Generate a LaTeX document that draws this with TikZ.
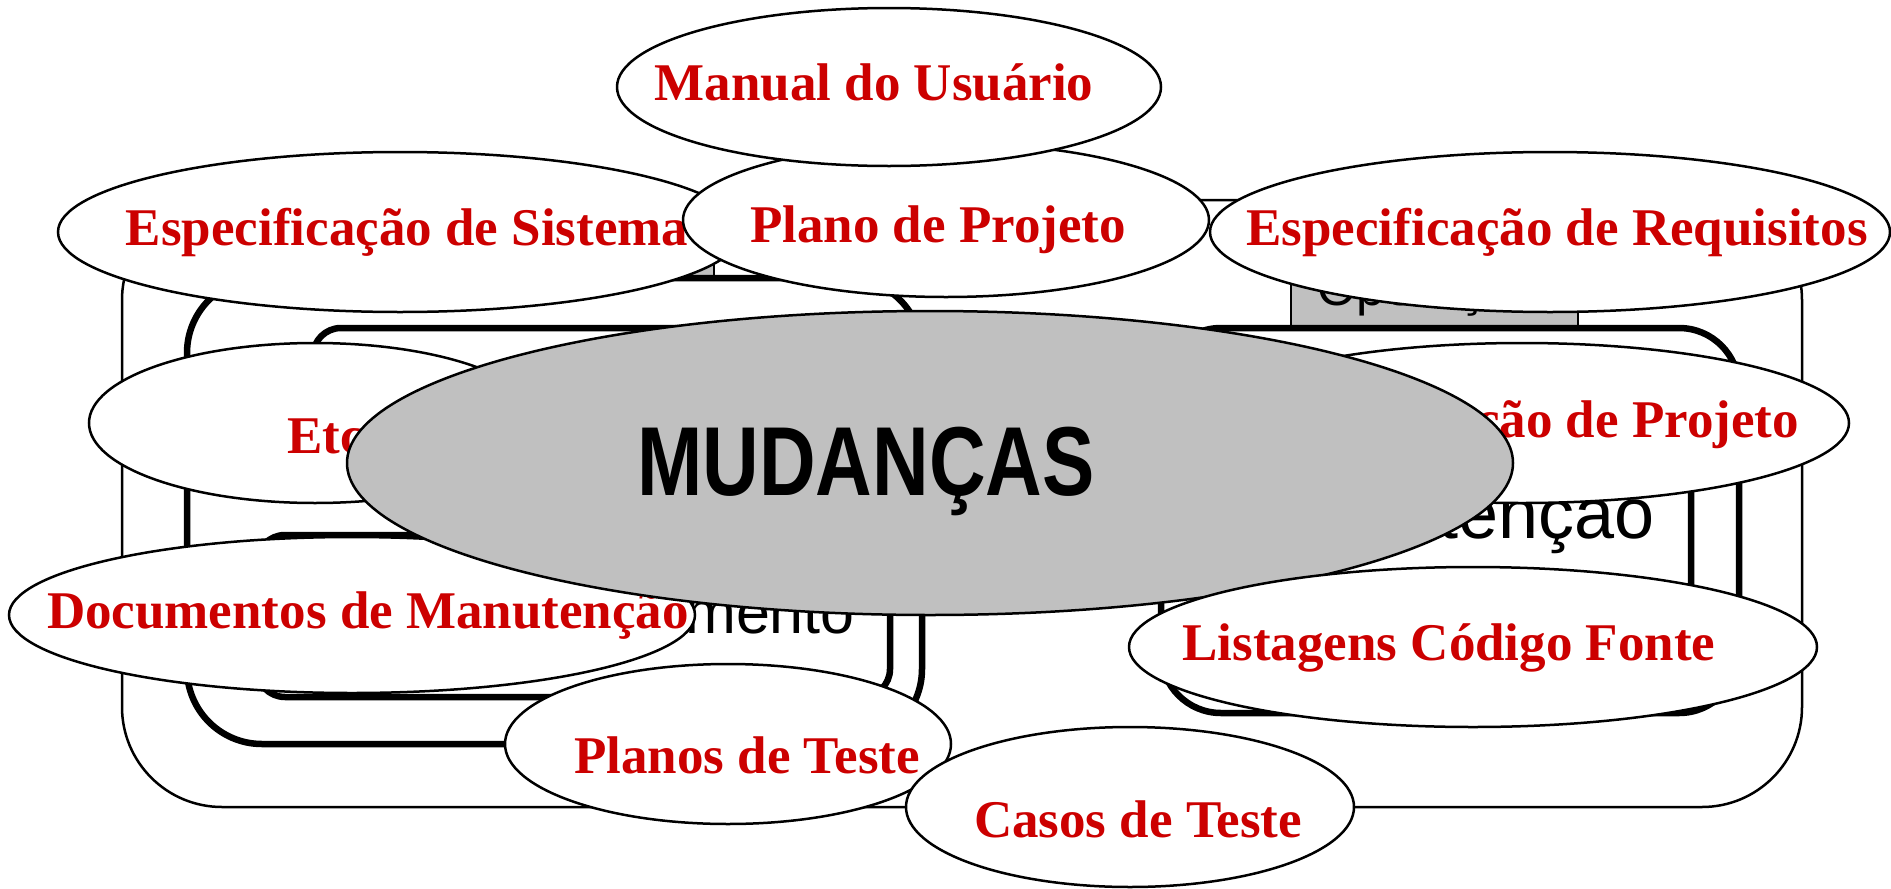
\documentclass[tikz,border=0pt]{standalone}
\usepackage{fontspec}
\setmainfont{Liberation Serif}
\newfontfamily\arialfont{Liberation Sans}
\newfontfamily\narrowsans[FakeStretch=0.8]{Liberation Sans}
\usetikzlibrary{shapes.geometric, positioning}
\definecolor{docred}{RGB}{204,0,0}
\definecolor{tabgray}{RGB}{192,192,192}

\begin{document}
\begin{tikzpicture}[x=1pt, y=-1pt,
        systembox/.style = {draw, line width=2.5pt, rounded corners=100pt},
        phasebox/.style = {draw, line width=6.5pt, rounded corners=75pt},
        stagebox/.style = {draw, line width=6.5pt, rounded corners=28pt},
        tabbox/.style = {draw, fill=tabgray, line width=2.5pt},
        doc/.style = {draw, ellipse, fill=white, line width=2.5pt, inner sep=0pt},
        doctext/.style = {anchor=base, inner sep=0pt, text=docred, font=\bfseries\fontsize{53}{60}\selectfont},
        phasetext/.style = {anchor=base east, inner sep=0pt, font=\arialfont\fontsize{70}{80}\selectfont},
        ]
        \useasboundingbox (0,0) rectangle (1891,889);

        % background: system, phases and their tabs
        \draw [systembox] (122,200) rectangle (1802,807);
        \draw [tabbox] (440,235) rectangle (714,278);
        \draw [tabbox] (1291,250) rectangle (1578,328);
        \draw [phasebox] (187,278) rectangle (922,744);
        \draw [stagebox] (313,328) rectangle (890,495);
        \draw [stagebox] (257,535) rectangle (890,697);
        \draw [phasebox, rounded corners=60pt] (1161,328) rectangle (1739,713);
        \draw [stagebox] (1195,370) rectangle (1691,690);
        \node [phasetext, font=\arialfont\fontsize{61}{70}\selectfont] (dev) at (855,633) {Desenvolvimento};
        \node [phasetext, font=\arialfont\fontsize{72}{80}\selectfont] (maint) at (1655,538) {Manutenção};
        \node [phasetext, anchor=base, font=\arialfont\fontsize{51}{60}\selectfont] (oper) at (1429,305) {Operação};

        % documents
        \node [doc, minimum width=684, minimum height=160] (sysspec) at (400,232) {};
        \node [doctext] (sysspec-t) at (407,245) {Especificação de Sistema};
        \node [doc, minimum width=680, minimum height=160] (reqspec) at (1550,232) {};
        \node [doctext] (reqspec-t) at (1557,245) {Especificação de Requisitos};
        \node [doc, minimum width=526, minimum height=154] (plan) at (946,220) {};
        \node [doctext] (plan-t) at (938,242) {Plano de Projeto};
        \node [doc, minimum width=544, minimum height=158] (manual) at (889,87) {};
        \node [doctext] (manual-t) at (874,100) {Manual do Usuário};
        \node [doc, minimum width=452, minimum height=160] (etc) at (315,423) {};
        \node [doctext, anchor=base west] (etc-t) at (287,453) {Etc.};
        \node [doc, minimum width=654, minimum height=160] (design) at (1522,423) {};
        \node [doctext, anchor=base east] (design-t) at (1799,437) {Especificação de Projeto};
        \node [doc, minimum width=686, minimum height=156] (maintdocs) at (352,615) {};
        \node [doctext] (maintdocs-t) at (368,628) {Documentos de Manutenção};

        \node [doc, fill=tabgray, minimum width=1166, minimum height=304] (changes) at (930,463) {};
        \node [anchor=base, inner sep=0pt, font=\narrowsans\bfseries\fontsize{98}{110}\selectfont] (changes-t) at (866,495) {MUDANÇAS};

        \node [doc, minimum width=688, minimum height=160] (source) at (1473,647) {};
        \node [doctext] (source-t) at (1449,660) {Listagens Código Fonte};
        \node [doc, minimum width=446, minimum height=160] (testplans) at (728,744) {};
        \node [doctext] (testplans-t) at (747,773) {Planos de Teste};
        \node [doc, minimum width=448, minimum height=160] (testcases) at (1130,807) {};
        \node [doctext] (testcases-t) at (1138,837) {Casos de Teste};
    \end{tikzpicture}
\end{document}
